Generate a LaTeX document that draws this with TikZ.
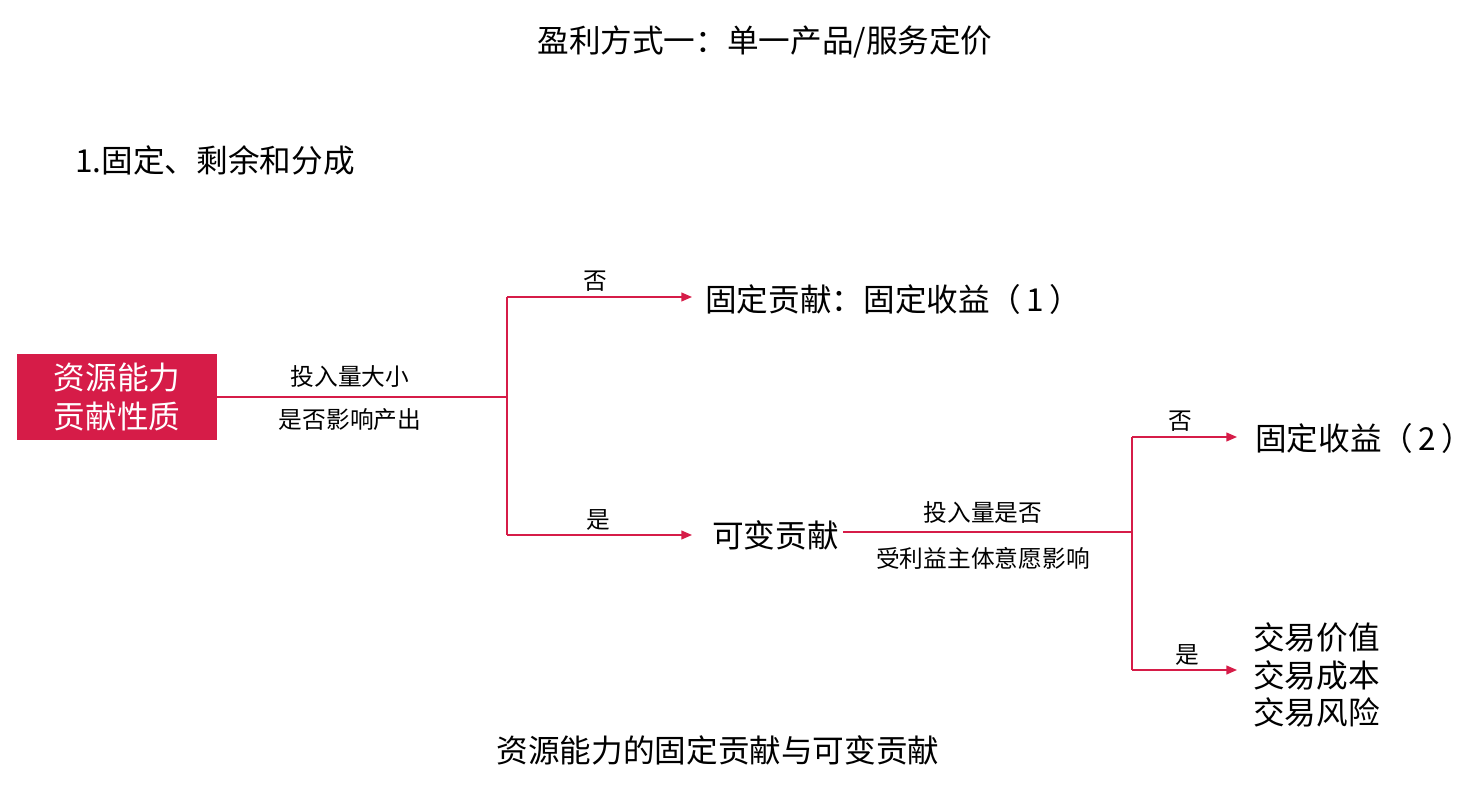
\documentclass[tikz,border=0pt]{standalone}
\usepackage{fontspec}
\setmainfont{Noto Sans CJK SC}
\usetikzlibrary{positioning,arrows.meta}
\definecolor{brandred}{RGB}{214,28,72}
\begin{document}
\begin{tikzpicture}[x=0.02cm, y=-0.02cm, >={Triangle[length=6pt,width=5pt]},
    link/.style={draw=brandred, line width=0.8pt},
    big/.style={font=\fontsize{18}{22}\selectfont, inner sep=0pt},
    small/.style={font=\fontsize{13.5}{16}\selectfont, inner sep=0pt}]
    \useasboundingbox (0,0) rectangle (1482,794);

    % === HEADINGS ===
    \node[big] (title) at (765,42) {盈利方式一：单一产品/服务定价};
    \node[big, anchor=west] (sub) at (75,160) {1.固定、剩余和分成};
    \node[big] (caption) at (718,750) {资源能力的固定贡献与可变贡献};

    % === LEFT: resource box ===
    \node[fill=brandred, text=white, minimum width=4cm, minimum height=1.72cm,
          font=\fontsize{18}{22}\selectfont, align=center] (res) at (117,397) {资源能力\\贡献性质};
    \coordinate (J1) at (507,397);
    \coordinate (J1t) at (507,297);
    \coordinate (J1b) at (507,535);
    \draw[link] (res.east) -- (J1);
    \draw[link] (J1t) -- (J1b);
    \node[small] (q1a) at (350,377) {投入量大小};
    \node[small] (q1b) at (350,420) {是否影响产出};

    % === MIDDLE ===
    \node[big, anchor=west] (fixed) at (705,299) {固定贡献：固定收益（\,1\,）};
    \node[big, anchor=west] (var) at (712,535) {可变贡献};
    \draw[link, ->] (J1t) -- (692,297);
    \draw[link, ->] (J1b) -- (692,535);
    \node[small] (no1) at (595,281) {否};
    \node[small] (yes1) at (598,520) {是};

    % === RIGHT ===
    \coordinate (J2) at (1132,532);
    \coordinate (J2t) at (1132,437);
    \coordinate (J2b) at (1132,670);
    \draw[link] (var.east |- J2) ++(4,0) -- (J2);
    \draw[link] (J2t) -- (J2b);
    \node[small] (q2a) at (983,513) {投入量是否};
    \node[small] (q2b) at (983,558) {受利益主体意愿影响};
    \node[big, anchor=west] (fixed2) at (1255,438) {固定收益（\,2\,）};
    \node[big, anchor=west, align=left, font=\fontsize{18}{21.5}\selectfont] (trade) at (1253,675) {交易价值\\交易成本\\交易风险};
    \draw[link, ->] (J2t) -- (1237,437);
    \draw[link, ->] (J2b) -- (1237,670);
    \node[small] (no2) at (1180,421) {否};
    \node[small] (yes2) at (1187,655) {是};
\end{tikzpicture}
\end{document}
